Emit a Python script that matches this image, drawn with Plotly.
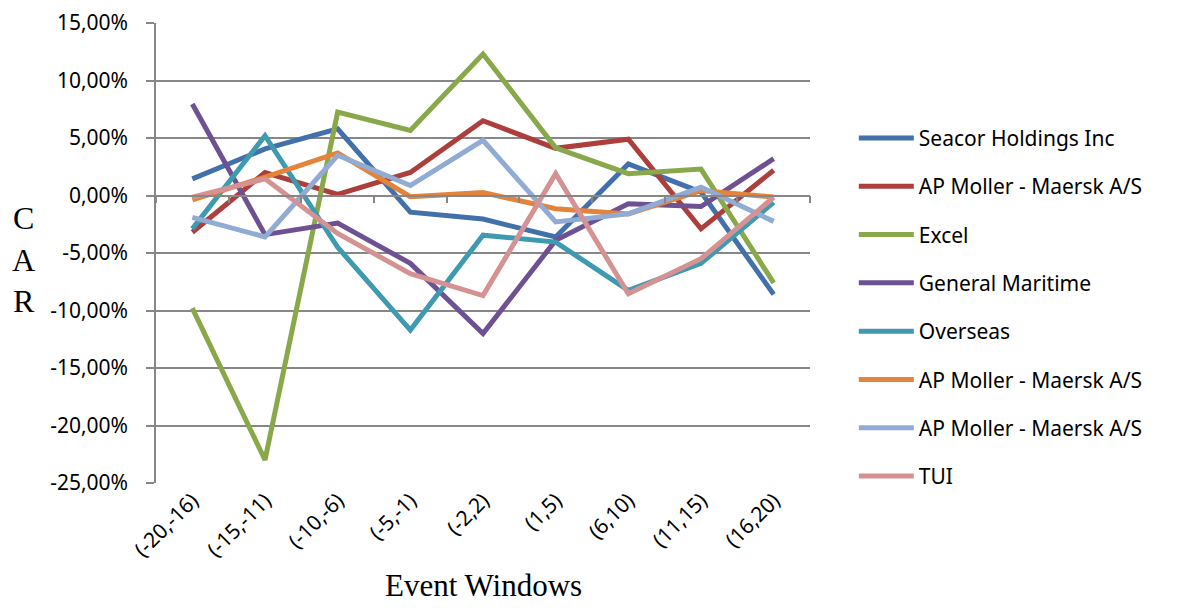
import plotly.graph_objects as go

categories = ["(-20,-16)", "(-15,-11)", "(-10,-6)", "(-5,-1)", "(-2,2)", "(1,5)", "(6,10)", "(11,15)", "(16,20)"]

seacor = [1.45, 4.05, 5.8, -1.45, -2.05, -3.6, 2.75, 0.3, -8.6]
maersk1 = [-3.2, 2.0, 0.1, 2.0, 6.5, 4.1, 4.9, -2.9, 2.2]
excel = [-9.8, -23.0, 7.25, 5.65, 12.3, 4.15, 1.9, 2.3, -7.6]
general_maritime = [7.95, -3.4, -2.4, -5.9, -12.0, -3.9, -0.72, -0.96, 3.2]
overseas = [-2.9, 5.2, -4.5, -11.7, -3.45, -4.05, -8.25, -5.9, -0.6]
maersk2 = [-0.37, 1.6, 3.7, -0.1, 0.25, -1.15, -1.6, 0.43, -0.14]
maersk3 = [-1.9, -3.6, 3.5, 0.87, 4.8, -2.3, -1.6, 0.72, -2.25]
tui = [-0.14, 1.45, -3.3, -6.8, -8.7, 1.9, -8.55, -5.5, -0.15]

series_names = ["Seacor Holdings Inc", "AP Moller - Maersk A/S", "Excel", "General Maritime",
                "Overseas", "AP Moller - Maersk A/S", "AP Moller - Maersk A/S", "TUI"]
series_values = [seacor, maersk1, excel, general_maritime, overseas, maersk2, maersk3, tui]
colors = ["#4170AA", "#AC3F3C", "#88A84A", "#6D5193", "#3E9AB0", "#E3843A", "#90ABD4", "#D49392"]

y_ticks = [15, 10, 5, 0, -5, -10, -15, -20, -25]
y_tick_labels = ["15,00%", "10,00%", "5,00%", "0,00%", "-5,00%", "-10,00%", "-15,00%", "-20,00%", "-25,00%"]

fig = go.Figure()
for i, (name, vals, col) in enumerate(zip(series_names, series_values, colors)):
    fig.add_trace(go.Scatter(x=categories, y=vals, name=name, mode="lines",
                             line=dict(color=col, width=5), legendgroup=f"g{i}"))

grid_col = "#878787"
sans = "Noto Sans, Open Sans, sans-serif"
serif = "Liberation Serif, Times New Roman, serif"
tick_font = dict(family=sans, size=21, color="#000000")

fig.update_layout(
    width=1182, height=600, autosize=False,
    margin=dict(l=148, r=380, t=14.5, b=125, autoexpand=False),
    paper_bgcolor="white", plot_bgcolor="white",
    showlegend=True,
    legend=dict(x=1.067, xanchor="left", y=0.382, yanchor="middle",
                font=dict(family=sans, size=21, color="#000000"), itemwidth=55,
                traceorder="grouped", tracegroupgap=18, bgcolor="rgba(0,0,0,0)"),
    xaxis=dict(type="category", categoryorder="array", categoryarray=categories,
               range=[-0.5, 8.5], showgrid=False, showline=False, ticks="",
               tickangle=-45, tickfont=tick_font, zeroline=False, automargin=False),
    xaxis2=dict(overlaying="x", anchor="free", position=0.625, range=[-0.5, 8.5],
                tick0=-0.5, dtick=1, ticks="outside", ticklen=7, tickcolor=grid_col, tickwidth=1.5,
                showticklabels=False, showline=True, linecolor=grid_col, linewidth=1.5,
                showgrid=False, zeroline=False),
    yaxis=dict(range=[-25, 15], tickvals=y_ticks, ticktext=y_tick_labels,
               showgrid=True, gridcolor=grid_col, gridwidth=1.5,
               showline=True, linecolor=grid_col, linewidth=1.5,
               ticks="outside", ticklen=8, tickcolor=grid_col, tickwidth=1.5,
               ticklabelstandoff=14, tickfont=tick_font, zeroline=False, automargin=False),
)

# invisible helper trace so that xaxis2 is rendered
fig.add_trace(go.Scatter(x=[0], y=[0], xaxis="x2", yaxis="y", mode="markers",
                         marker=dict(opacity=0), showlegend=False, hoverinfo="skip"))

fig.add_annotation(text="C<br>A<br>R", xref="paper", yref="paper", x=-0.203, y=0.485,
                   xanchor="center", yanchor="middle", showarrow=False, align="center",
                   font=dict(family=serif, size=32, color="#000000"))
fig.add_annotation(text="Event Windows", xref="paper", yref="paper", x=0.5, y=-0.222,
                   xanchor="center", yanchor="middle", showarrow=False,
                   font=dict(family=serif, size=31, color="#000000"))

fig.write_html("out.html")
